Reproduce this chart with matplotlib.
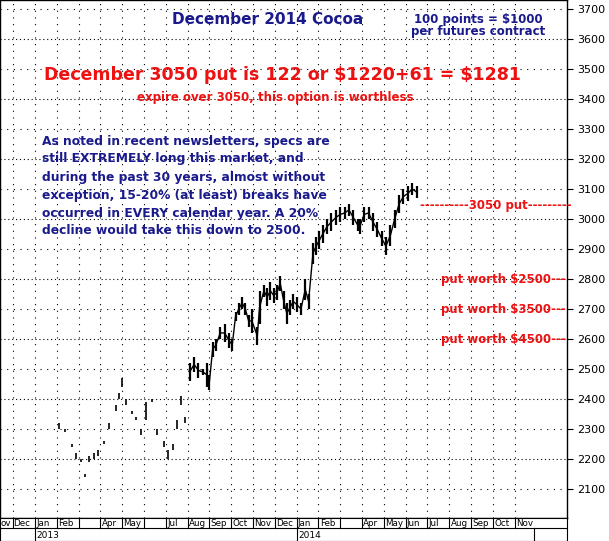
import matplotlib
matplotlib.use("Agg")
import matplotlib.pyplot as plt

# time in months since Jan 2013 (0 = start of Jan 2013)
t_sparse = [1.1,1.4,1.7,1.9,2.1,2.3,2.5,2.7,2.9,3.15,3.4,3.7,3.85,4.0,4.2,4.45,4.65,4.85,5.1,5.35,5.6,5.9,6.1,6.35,6.5,6.7,6.9]
lo_sparse = [2300,2290,2240,2200,2190,2140,2190,2200,2210,2250,2300,2360,2400,2440,2380,2350,2330,2280,2330,2390,2280,2240,2200,2230,2300,2380,2320]
hi_sparse = [2320,2300,2250,2220,2200,2150,2210,2220,2230,2260,2320,2380,2420,2470,2400,2360,2340,2300,2390,2400,2300,2260,2230,2250,2330,2410,2340]

t_dense = [7.1,7.3,7.5,7.7,7.9,8.0,8.15,8.3,8.5,8.7,8.9,9.05,9.2,9.35,9.5,9.65,9.8,9.95,10.2,10.3,10.5,10.65,10.8,10.95,11.1,11.25,11.4,11.55,11.7,11.85,12.0,12.2,12.4,12.55,12.75,12.9,13.05,13.2,13.4,13.6,13.8,14.0,14.2,14.4,14.6,14.8,14.9,15.1,15.3,15.5,15.7,15.9,16.1,16.3,16.5,16.7,16.9,17.1,17.3,17.5]
lo_dense = [2460,2490,2470,2480,2440,2430,2540,2560,2600,2590,2570,2560,2660,2680,2700,2680,2640,2620,2580,2650,2740,2710,2730,2720,2730,2760,2700,2650,2680,2700,2690,2680,2730,2700,2850,2880,2900,2920,2950,2960,2980,2990,3000,3010,2980,2960,2950,2990,3000,2960,2940,2910,2880,2910,2970,3020,3050,3060,3080,3070]
hi_dense = [2520,2540,2520,2500,2520,2480,2590,2600,2640,2650,2620,2600,2690,2720,2740,2720,2680,2700,2640,2760,2780,2770,2790,2770,2780,2810,2760,2720,2730,2750,2740,2720,2800,2750,2920,2940,2960,2980,3000,3020,3030,3040,3040,3050,3030,3000,3000,3040,3040,3020,2990,2960,2940,2980,3030,3080,3100,3110,3120,3110]

month_labels = ["ov","Dec","Jan","Feb","","Apr","May","","Jul","Aug","Sep","Oct","Nov","Dec",
                "Jan","Feb","","Apr","May","Jun","Jul","Aug","Sep","Oct","Nov"]
month_starts = list(range(-2, 23))
years = ["2013", "2014"]
year_starts = [0, 12]
price_ticks = list(range(2100, 3800, 100))

W, H = 609, 541
fig = plt.figure(figsize=(W/100, H/100), dpi=100)
x0, x1 = -1.6, 24.4
ax = fig.add_axes([0, (H-518)/H, 567/W, 518/H])
ax.set_xlim(x0, x1)
ax.set_ylim(2003, 3730)
for m in month_starts:
    ax.axvline(m, color="black", lw=0.8, ls=(0, (1, 5)))
for p in price_ticks:
    ax.axhline(p, color="black", lw=0.8, ls=(0, (1, 5)) if p % 200 else (0, (1, 2.5)))
ax.vlines(t_sparse, lo_sparse, hi_sparse, color="black", lw=1.2)
ax.vlines(t_dense, lo_dense, hi_dense, color="black", lw=1.6)
ax.plot(t_dense, [(a+b)/2 for a, b in zip(lo_dense, hi_dense)], color="black", lw=1.0)
ax.set_xticks([])
ax.yaxis.tick_right()
ax.set_yticks(price_ticks)
ax.tick_params(axis="y", labelsize=8, length=4, direction="out")
for s in ax.spines.values():
    s.set_linewidth(1)

navy = "#1a1a8c"
red = "#ee1111"
def fx(px): return px / 567
def fy(py): return 1 - py / 518
kw = dict(transform=ax.transAxes, fontweight="bold", va="center")
ax.text(fx(268), fy(20), "December 2014 Cocoa", color=navy, fontsize=11, ha="center", **kw)
ax.text(fx(478), fy(20), "100 points = \\$1000", color=navy, fontsize=8.5, ha="center", **kw)
ax.text(fx(478), fy(32), "per futures contract", color=navy, fontsize=8.5, ha="center", **kw)
ax.text(fx(283), fy(75), "December 3050 put is 122 or \\$1220+61 = \\$1281", color=red, fontsize=12.5, ha="center", **kw)
ax.text(fx(275), fy(97), "expire over 3050, this option is worthless", color=red, fontsize=8.5, ha="center", **kw)
para = ["As noted in recent newsletters, specs are",
        "still EXTREMELY long this market, and",
        "during the past 30 years, almost without",
        "exception, 15-20% (at least) breaks have",
        "occurred in EVERY calendar year. A 20%",
        "decline would take this down to 2500."]
for i, line in enumerate(para):
    ax.text(fx(42), fy(141 + 18*i), line, color=navy, fontsize=8.8, ha="left", **kw)
ax.text(fx(420), fy(205), "----------3050 put---------", color=red, fontsize=8.5, ha="left", **kw)
for py, s in [(279, "put worth \\$2500---"), (309, "put worth \\$3500---"), (339, "put worth \\$4500---")]:
    ax.text(fx(566), fy(py), s, color=red, fontsize=8.5, ha="right", **kw)

# month and year rows
axm = fig.add_axes([0, 0, 567/W, 23/H])
axm.set_xlim(x0, x1)
axm.set_ylim(0, 2)
axm.set_xticks([]); axm.set_yticks([])
axm.axhline(1.1, color="black", lw=0.8)
for m, lab in zip(month_starts, month_labels):
    axm.plot([m, m], [1.1, 2], color="black", lw=0.8)
    xpos = m + 0.06 if m >= 0 else max(m, x0) + 0.02
    axm.text(xpos, 1.55, lab, fontsize=6.3, ha="left", va="center")
for ys, lab in zip(year_starts, years):
    axm.plot([ys, ys], [0, 1.1], color="black", lw=0.8)
    axm.text(ys + 0.08, 0.5, lab, fontsize=6.5, ha="left", va="center")
axm.plot([22.9, 22.9], [0, 1.1], color="black", lw=0.8)
fig.savefig("out.png", dpi=100, facecolor="white")
